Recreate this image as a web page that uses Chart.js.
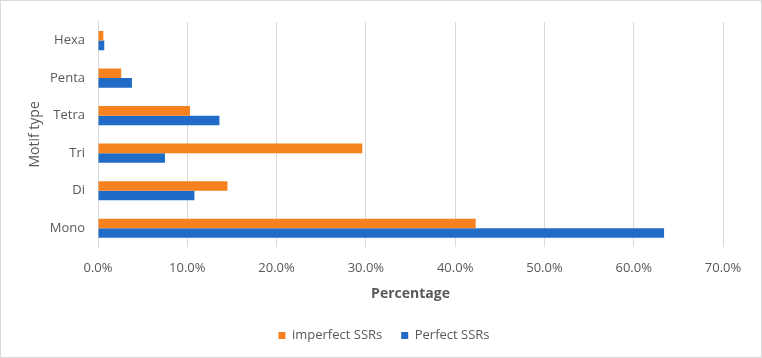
<!DOCTYPE html>
<html>
<head>
<meta charset="utf-8">
<script src="https://cdn.jsdelivr.net/npm/chart.js@4"></script>
<style>
  html, body { margin: 0; padding: 0; background: #fff; }
  #wrap { width: 762px; height: 358px; box-sizing: border-box; border: 1px solid #d9d9d9; }
  canvas { display: block; }
</style>
</head>
<body>
<div id="wrap"><canvas id="motifChart" width="760" height="356"></canvas></div>
<script>
  var motifTypes = ['Hexa', 'Penta', 'Tetra', 'Tri', 'Di', 'Mono'];
  var imperfectSSRs = [0.6, 2.6, 10.3, 29.6, 14.5, 42.3];
  var perfectSSRs = [0.7, 3.8, 13.6, 7.5, 10.8, 63.4];
  var xTicks = [0, 10, 20, 30, 40, 50, 60, 70];

  var grey = '#595959';
  var lineGrey = '#d9d9d9';
  var fontFamily = "'Open Sans', 'Noto Sans', sans-serif";

  var ctx = document.getElementById('motifChart').getContext('2d');

  // left padding pushes the centred legend over to where it sits in the original
  new Chart(ctx, {
    type: 'bar',
    data: {
      labels: motifTypes,
      datasets: [{
        label: 'imperfect SSRs',
        data: imperfectSSRs,
        backgroundColor: '#f5821f',
        borderWidth: 0
      }, {
        label: 'Perfect SSRs',
        data: perfectSSRs,
        backgroundColor: '#1f6bc6',
        borderWidth: 0
      }]
    },
    options: {
      indexAxis: 'y',
      responsive: false,
      animation: false,
      datasets: {
        bar: { categoryPercentage: 0.51, barPercentage: 1 }
      },
      layout: { padding: { top: 17, right: 38, left: 44, bottom: 5 } },
      plugins: {
        tooltip: { enabled: false },
        legend: {
          position: 'bottom',
          labels: {
            boxWidth: 7,
            boxHeight: 7,
            padding: 19,
            color: grey,
            font: { family: fontFamily, size: 13 }
          }
        }
      },
      scales: {
        x: {
          min: 0,
          max: 70,
          afterBuildTicks: function(scale) {
            scale.ticks = xTicks.map(function(v) { return { value: v }; });
          },
          afterFit: function(scale) {
            scale.height = 63;
          },
          grid: { color: lineGrey, drawTicks: false },
          border: { display: false },
          ticks: {
            padding: 13,
            color: grey,
            font: { family: fontFamily, size: 13 },
            callback: function(v) { return Number(v).toFixed(1) + '%'; }
          },
          title: {
            display: true,
            text: 'Percentage',
            color: grey,
            padding: { top: 0, bottom: 8 },
            font: { family: fontFamily, size: 14, weight: 'bold' }
          }
        },
        y: {
          afterFit: function(scale) {
            scale.width = 53;
          },
          grid: { display: false, drawTicks: false },
          border: { display: true, color: lineGrey, width: 1 },
          ticks: {
            padding: 13,
            color: grey,
            font: { family: fontFamily, size: 13 }
          },
          title: {
            display: true,
            text: 'Motif type',
            color: grey,
            padding: { top: -18, bottom: 0 },
            font: { family: fontFamily, size: 14 }
          }
        }
      }
    }
  });
</script>
</body>
</html>
